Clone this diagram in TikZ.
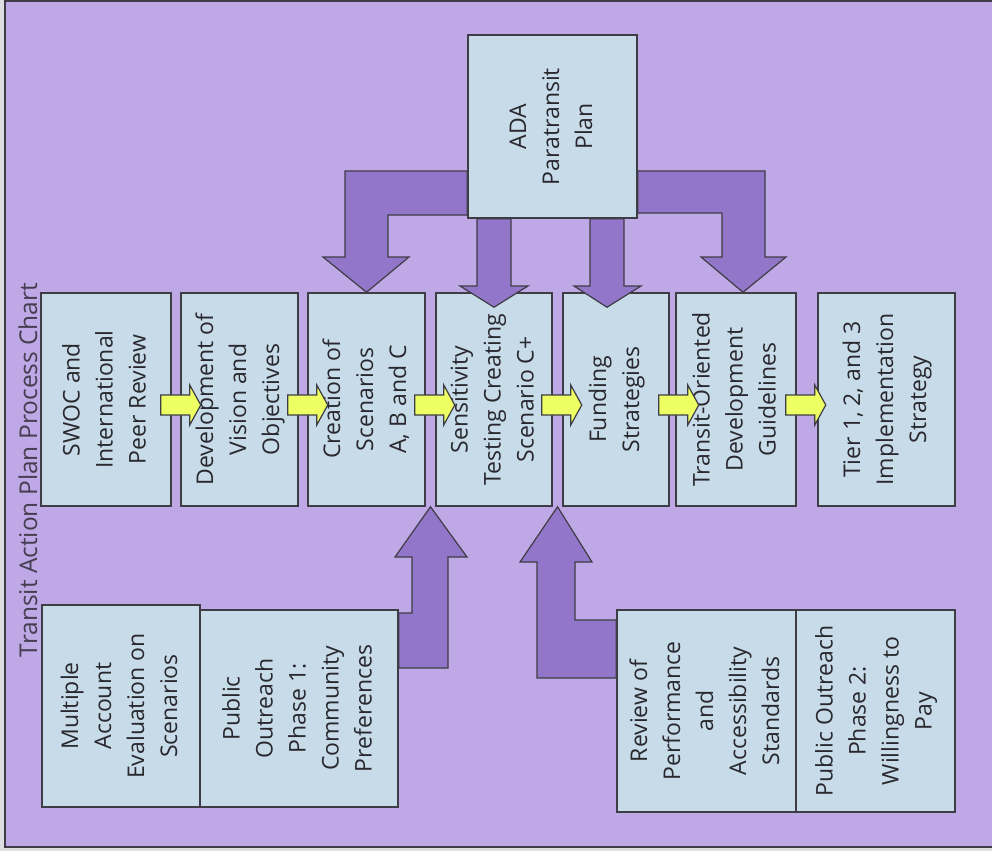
\documentclass[tikz,border=0pt]{standalone}
\usepackage{fontspec}
\setmainfont{Open Sans}
\usepackage{graphicx}
\usetikzlibrary{calc}

\definecolor{pagegray}{RGB}{222,222,226}
\definecolor{bgpurple}{RGB}{191,168,230}
\definecolor{boxblue}{RGB}{200,219,232}
\definecolor{arrowpurple}{RGB}{146,118,202}
\definecolor{ylw}{RGB}{238,255,100}
\definecolor{edgegray}{RGB}{62,60,68}
\definecolor{txtgray}{RGB}{40,40,46}
\definecolor{ttlgray}{RGB}{68,62,80}

\newcommand{\vlines}[1]{\rotatebox{90}{\begin{tabular}{@{}c@{}}#1\end{tabular}}}

\begin{document}
\begin{tikzpicture}[x=1pt, y=-1pt,
        stepnode/.style={rectangle, draw=edgegray, fill=boxblue, line width=1.5pt, inner sep=0pt, text=txtgray, font=\fontsize{23}{33}\selectfont},
        fatarrow/.style={draw=edgegray, fill=arrowpurple, line width=1.2pt, line join=miter},
        yarrow/.style={draw=edgegray, fill=ylw, line width=1.2pt, line join=miter},
    ]
        \useasboundingbox (0,0) rectangle (992,851);
        \fill[pagegray] (0,0) rectangle (992,851);
        \draw[fill=bgpurple, draw=edgegray, line width=2pt] (5,1) rectangle (1000,847);

        %Nodes
        \node[text=ttlgray, font=\fontsize{24.5}{30}\selectfont] (ttl) at (28,470) {\rotatebox{90}{Transit Action Plan Process Chart}};

        \node[stepnode, minimum width=130, minimum height=213] (swoc) at (106,399.5) {\vlines{SWOC and\\International\\Peer Review}};
        \node[stepnode, minimum width=117, minimum height=213] (dev) at (239.5,399.5) {\vlines{Development of\\Vision and\\Objectives}};
        \node[stepnode, minimum width=117, minimum height=213] (crea) at (366.5,399.5) {\vlines{Creation of\\Scenarios\\A, B and C}};
        \node[stepnode, minimum width=116, minimum height=213] (sens) at (494,399.5) {\vlines{Sensitivity\\Testing Creating\\Scenario C+}};
        \node[stepnode, minimum width=106, minimum height=213] (fund) at (616,399.5) {\vlines{Funding\\Strategies}};
        \node[stepnode, minimum width=120, minimum height=213] (tod) at (736,399.5) {\vlines{Transit-Oriented\\Development\\Guidelines}};
        \node[stepnode, minimum width=137, minimum height=213] (tier) at (886.5,399.5) {\vlines{Tier 1, 2, and 3\\Implementation\\Strategy}};

        \node[stepnode, minimum width=169, minimum height=183] (ada) at (552.5,126.5) {\vlines{ADA\\Paratransit\\Plan}};

        \node[stepnode, minimum width=158, minimum height=202] (mae) at (121,706) {\vlines{Multiple\\Account\\Evaluation on\\Scenarios}};
        \node[stepnode, minimum width=198, minimum height=197] (po1) at (299,708.5) {\vlines{Public\\Outreach\\Phase 1:\\Community\\Preferences}};
        \node[stepnode, minimum width=179, minimum height=202] (rev) at (706.5,711) {\vlines{Review of\\Performance\\and\\Accessibility\\Standards}};
        \node[stepnode, minimum width=159, minimum height=202] (po2) at (875.5,711) {\vlines{Public Outreach\\Phase 2:\\Willingness to\\Pay}};

        %Big arrows from the ADA plan
        \draw[fatarrow] (ada.west |- 0,171) -- (345,171) -- (345,257) -- (323,257) -- (crea.north)
            -- (409,257) -- (388,257) -- (388,215) -- (ada.west |- 0,215) -- cycle;
        \draw[fatarrow] (ada.south -| 477,0) -- (477,286) -- (460,286) -- ($(sens.north)+(0,15)$)
            -- (528,286) -- (511,286) -- (ada.south -| 511,0) -- cycle;
        \draw[fatarrow] (ada.south -| 590,0) -- (590,286) -- (574,286) -- ($(fund.north)+(-9,15)$)
            -- (641,286) -- (624,286) -- (ada.south -| 624,0) -- cycle;
        \draw[fatarrow] (ada.east |- 0,171) -- (765,171) -- (765,257) -- (786,257) -- ($(tod.north)+(7,0)$)
            -- (701,257) -- (722,257) -- (722,213) -- (ada.east |- 0,213) -- cycle;

        %Big arrows from below
        \coordinate (cs) at ($(crea.south east)!0.5!(sens.south west)$);
        \coordinate (sf) at ($(sens.south east)!0.5!(fund.south west)$);
        \draw[fatarrow] (po1.east |- 0,613) -- (412,613) -- (412,557) -- (395,557) -- (cs)
            -- (467,557) -- (448,557) -- (448,668) -- (po1.east |- 0,668) -- cycle;
        \draw[fatarrow] (rev.west |- 0,620) -- (575,620) -- (575,562) -- (592,562) -- (sf)
            -- (520,562) -- (537,562) -- (537,678) -- (rev.west |- 0,678) -- cycle;

        %Lines
        \foreach \a in {swoc,dev,crea,sens,fund,tod}{
            \draw[yarrow] ($(\a.east)+(-11,-4.5)$) -- ++(29,0) -- ++(0,-10) -- ++(11,20)
                -- ++(-11,20) -- ++(0,-10) -- ++(-29,0) -- cycle;
        }
    \end{tikzpicture}
\end{document}
